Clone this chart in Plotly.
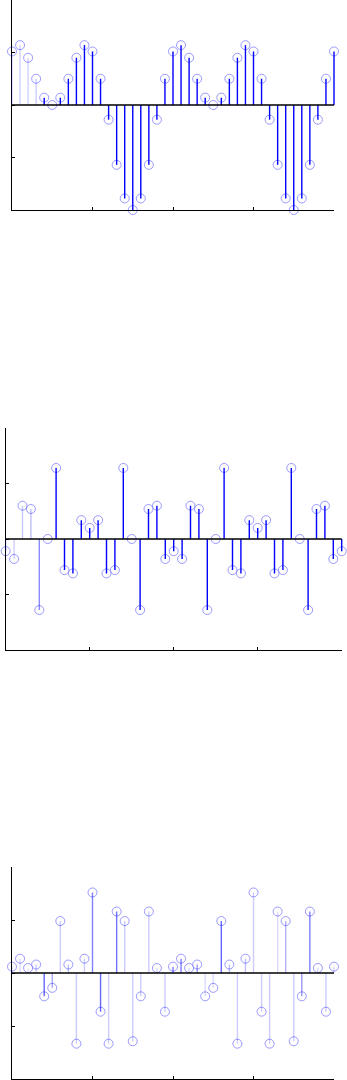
import plotly.graph_objects as go

W, H = 347, 1080

n = list(range(41))

# Panel 1 values
y1 = [0.51, 0.57, 0.45, 0.25, 0.07, 0.0, 0.07, 0.25, 0.45, 0.57,
      0.51, 0.25, -0.14, -0.57, -0.89, -1.0, -0.89, -0.57, -0.14, 0.25,
      0.51, 0.57, 0.45, 0.25, 0.07, 0.0, 0.07, 0.25, 0.45, 0.57,
      0.51, 0.25, -0.14, -0.57, -0.89, -1.0, -0.89, -0.57, -0.14, 0.25,
      0.51]

# Panel 2 values
y2 = [-0.11, -0.18, 0.30, 0.27, -0.64, 0.0, 0.64, -0.28, -0.31, 0.17,
      0.10, 0.17, -0.31, -0.28, 0.64, 0.0, -0.64, 0.27, 0.30, -0.18,
      -0.11, -0.18, 0.30, 0.27, -0.64, 0.0, 0.64, -0.28, -0.31, 0.17,
      0.10, 0.17, -0.31, -0.28, 0.64, 0.0, -0.64, 0.27, 0.30, -0.18,
      -0.11]

# Panel 3 values
y3 = [0.06, 0.135, 0.047, 0.08, -0.22, -0.14, 0.49, 0.08, -0.667, 0.135,
      0.76, -0.365, -0.667, 0.58, 0.49, -0.644, -0.22, 0.58, 0.047, -0.365,
      0.06, 0.135, 0.047, 0.08, -0.22, -0.14, 0.49, 0.08, -0.667, 0.135,
      0.76, -0.365, -0.667, 0.58, 0.49, -0.644, -0.22, 0.58, 0.047, -0.365,
      0.06]

# Stem opacity (style)
a1 = [0.15, 0.18, 0.18, 0.2] + [1.0] * 37
a2 = [0.2, 0.2, 0.22, 0.25, 0.45] + [1.0] * 36
a3 = [0.15, 0.15, 0.1, 0.2, 0.6, 0.35, 0.2, 0.25, 0.2, 0.2,
      0.5, 0.6, 0.2, 0.55, 0.2, 0.2, 0.2, 0.2, 0.15, 0.2,
      0.5, 0.5, 0.15, 0.4, 0.15, 0.15, 0.6, 0.25, 0.2, 0.25,
      0.2, 0.2, 0.2, 0.15, 0.3, 0.2, 0.4, 0.5, 0.15, 0.2,
      0.15]

# pixel layout of each panel: (x_left, x_right, y_top, y_bottom)
panels = [
    (12, 334, 0, 210),
    (5.7, 341.7, 428, 650),
    (12, 334, 867, 1079),
]

MARKER_COLOR = "rgba(120,120,255,0.75)"
XR = [0, 40]
PAD = 5  # px of extra room so edge stems are not clipped

fig = go.Figure()

datasets = [(y1, a1), (y2, a2), (y3, a3)]
for i, ((ys, alphas), (xl, xr, yt, yb)) in enumerate(zip(datasets, panels)):
    sfx = "" if i == 0 else str(i + 1)
    xa, ya = "x" + sfx, "y" + sfx
    sx = "x" + str(i + 4)  # hidden stem axis, same scale, wider area
    # stems
    for xi, yi, al in zip(n, ys, alphas):
        fig.add_trace(go.Scatter(
            x=[xi, xi], y=[0, yi], mode="lines",
            line=dict(color=f"rgba(0,0,255,{al})", width=1.4),
            xaxis=sx, yaxis=ya, showlegend=False, hoverinfo="skip"))
    # baseline
    fig.add_trace(go.Scatter(
        x=[n[0], n[-1]], y=[0, 0], mode="lines",
        line=dict(color="black", width=1.3),
        xaxis=sx, yaxis=ya, showlegend=False, hoverinfo="skip"))
    # markers
    fig.add_trace(go.Scatter(
        x=n, y=ys, mode="markers",
        marker=dict(symbol="circle-open", size=9, color=MARKER_COLOR,
                    line=dict(color=MARKER_COLOR, width=1)),
        xaxis=xa, yaxis=ya, showlegend=False, cliponaxis=False))

    xdom = [xl / W, xr / W]
    ydom = [1 - yb / H, 1 - yt / H]
    ppu = (xr - xl) / (XR[1] - XR[0])
    du = PAD / ppu
    common = dict(showgrid=False, zeroline=False, showline=True,
                  linecolor="black", linewidth=1.3, ticks="inside",
                  ticklen=3, tickcolor="black", tickwidth=1.3,
                  showticklabels=False, mirror=False)
    fig.update_layout(**{
        "xaxis" + sfx: dict(domain=xdom, range=XR, tickvals=[0, 10, 20, 30, 40],
                            anchor=ya, **common),
        "yaxis" + sfx: dict(domain=ydom, range=[-1, 1], tickvals=[-1, -0.5, 0, 0.5, 1],
                            anchor=xa, **common),
        "xaxis" + str(i + 4): dict(domain=[(xl - PAD) / W, (xr + PAD) / W],
                                   range=[XR[0] - du, XR[1] + du],
                                   visible=False, showgrid=False, zeroline=False,
                                   anchor=ya),
    })

fig.update_layout(
    width=W, height=H,
    margin=dict(l=0, r=0, t=0, b=0),
    paper_bgcolor="white", plot_bgcolor="rgba(0,0,0,0)",
    showlegend=False,
)

fig.write_html("out.html")
